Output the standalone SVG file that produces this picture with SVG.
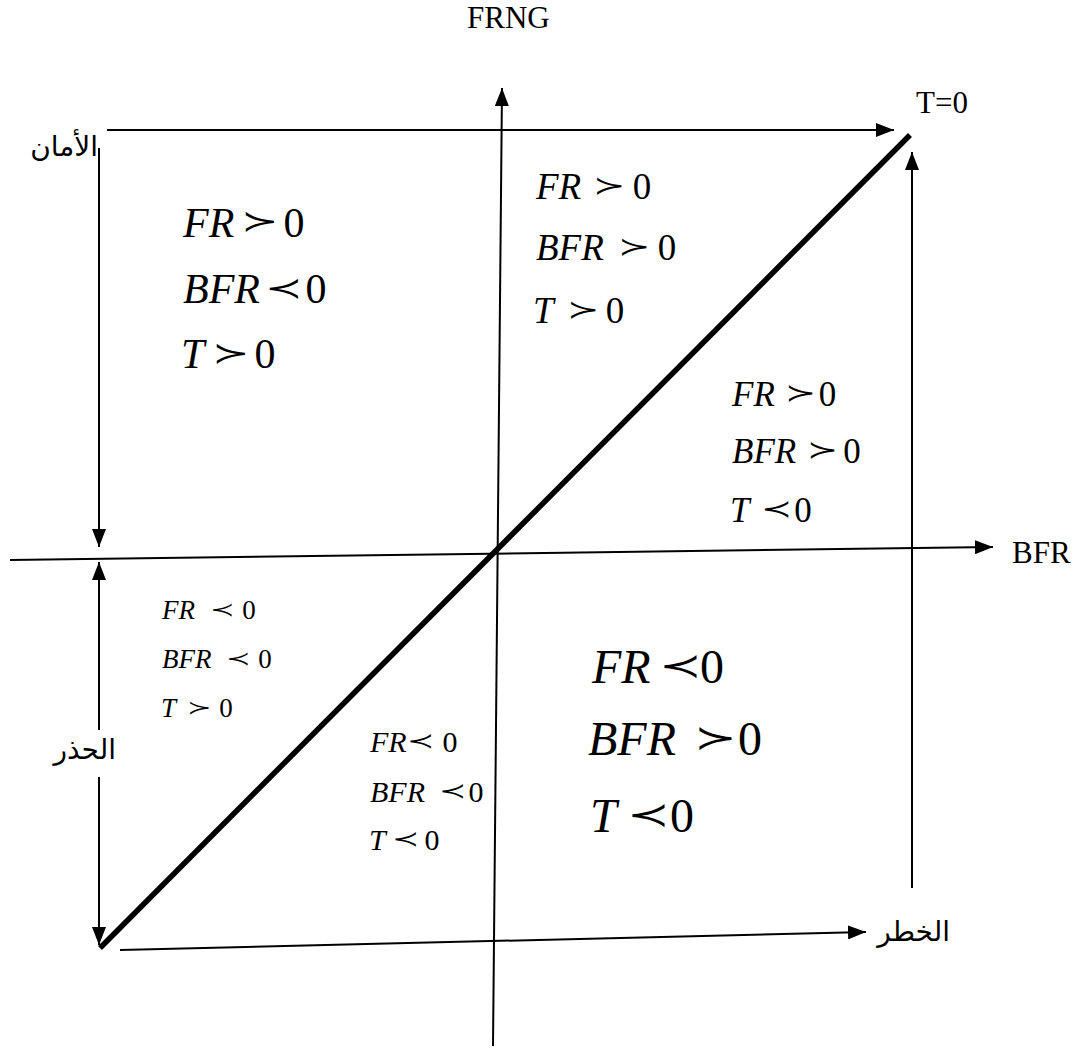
<svg xmlns="http://www.w3.org/2000/svg" width="1081" height="1050" viewBox="0 0 1081 1050">
<style>
.ax{stroke:#000;stroke-width:2;fill:none}
.dg{stroke:#000;stroke-width:5.5;fill:none}
.lbl{font-family:"Liberation Serif","Times New Roman",serif;font-size:31px;fill:#000}
.ar{font-family:"DejaVu Sans",sans-serif;font-size:28px;fill:#000}
.m{font-family:"Liberation Serif","Times New Roman",serif;font-style:italic;fill:#000}
.z{font-family:"Liberation Serif","Times New Roman",serif;fill:#000;text-anchor:middle}
.s{font-family:"DejaVu Sans",sans-serif;font-weight:200;fill:#000;text-anchor:middle;dominant-baseline:central}
</style>
<defs>
<marker id="ah" markerUnits="userSpaceOnUse" markerWidth="18" markerHeight="14" refX="18" refY="7" orient="auto">
<path d="M0,0 L18,7 L0,14 z" fill="#000"/>
</marker>
</defs>
<g id="connectors">
<line class="ax" x1="493" y1="1046" x2="502" y2="88" marker-end="url(#ah)"/>
<line class="ax" x1="10" y1="560" x2="993" y2="547" marker-end="url(#ah)"/>
<line class="dg" x1="100" y1="948" x2="910" y2="135"/>
<line class="ax" x1="107" y1="130" x2="894" y2="130" marker-end="url(#ah)"/>
<line class="ax" x1="912" y1="888" x2="912" y2="152" marker-end="url(#ah)"/>
<line class="ax" x1="99" y1="148" x2="99" y2="547" marker-end="url(#ah)"/>
<line class="ax" x1="99" y1="730" x2="99" y2="562" marker-end="url(#ah)"/>
<line class="ax" x1="99" y1="777" x2="99" y2="945" marker-end="url(#ah)"/>
<line class="ax" x1="120" y1="950" x2="866" y2="932" marker-end="url(#ah)"/>
</g>
<g id="axis-labels">
<text class="lbl" x="467" y="28">FRNG</text>
<text class="lbl" x="916" y="113">T=0</text>
<text class="lbl" x="1012" y="563">BFR</text>
</g>
<g id="zone-labels">
<text class="ar" x="98" y="156" text-anchor="end">الأمان</text>
<text class="ar" x="116" y="759" text-anchor="end">الحذر</text>
<text class="ar" x="950" y="941" text-anchor="end">الخطر</text>
</g>
<g id="region-top-left" font-size="42">
<text class="m" x="183" y="237">FR</text>
<text class="s" font-size="29" transform="translate(260,221.5) scale(1.55,1)">≻</text>
<text class="z" x="294" y="237">0</text>
<text class="m" x="183" y="303">BFR</text>
<text class="s" font-size="29" transform="translate(284,288) scale(1.55,1)">≺</text>
<text class="z" x="316" y="303">0</text>
<text class="m" x="181" y="368">T</text>
<text class="s" font-size="29" transform="translate(231.5,353.5) scale(1.55,1)">≻</text>
<text class="z" x="265" y="368">0</text>
</g>
<g id="region-top-middle" font-size="37">
<text class="m" x="536" y="199">FR</text>
<text class="s" font-size="25" transform="translate(609.5,185.5) scale(1.55,1)">≻</text>
<text class="z" x="642" y="199">0</text>
<text class="m" x="536" y="260">BFR</text>
<text class="s" font-size="25" transform="translate(634.5,246.5) scale(1.55,1)">≻</text>
<text class="z" x="667" y="260">0</text>
<text class="m" x="533" y="323">T</text>
<text class="s" font-size="25" transform="translate(583.5,309.5) scale(1.55,1)">≻</text>
<text class="z" x="615" y="323">0</text>
</g>
<g id="region-right" font-size="35">
<text class="m" x="732" y="406">FR</text>
<text class="s" font-size="24" transform="translate(800,393) scale(1.55,1)">≻</text>
<text class="z" x="827.5" y="406">0</text>
<text class="m" x="732" y="463">BFR</text>
<text class="s" font-size="24" transform="translate(822.5,450) scale(1.55,1)">≻</text>
<text class="z" x="852" y="463">0</text>
<text class="m" x="730" y="522">T</text>
<text class="s" font-size="24" transform="translate(776,509) scale(1.55,1)">≺</text>
<text class="z" x="803" y="522">0</text>
</g>
<g id="region-lower-left" font-size="27">
<text class="m" x="162" y="619">FR</text>
<text class="s" font-size="19" transform="translate(222,609) scale(1.55,1)">≺</text>
<text class="z" x="249" y="619">0</text>
<text class="m" x="162" y="668">BFR</text>
<text class="s" font-size="19" transform="translate(238,658) scale(1.55,1)">≺</text>
<text class="z" x="265" y="668">0</text>
<text class="m" x="161" y="717">T</text>
<text class="s" font-size="19" transform="translate(199,707) scale(1.55,1)">≻</text>
<text class="z" x="226" y="717">0</text>
</g>
<g id="region-lower-middle" font-size="30">
<text class="m" x="370" y="752">FR</text>
<text class="s" font-size="21" transform="translate(421,741) scale(1.55,1)">≺</text>
<text class="z" x="450" y="752">0</text>
<text class="m" x="370" y="802">BFR</text>
<text class="s" font-size="21" transform="translate(453,791) scale(1.55,1)">≺</text>
<text class="z" x="476" y="802">0</text>
<text class="m" x="369" y="850">T</text>
<text class="s" font-size="21" transform="translate(406,839) scale(1.55,1)">≺</text>
<text class="z" x="432" y="850">0</text>
</g>
<g id="region-lower-right" font-size="48">
<text class="m" x="592" y="683">FR</text>
<text class="s" font-size="33" transform="translate(680,665) scale(1.55,1)">≺</text>
<text class="z" x="712" y="683">0</text>
<text class="m" x="588" y="755">BFR</text>
<text class="s" font-size="33" transform="translate(715,737) scale(1.55,1)">≻</text>
<text class="z" x="750" y="755">0</text>
<text class="m" x="590" y="832">T</text>
<text class="s" font-size="33" transform="translate(648,814) scale(1.55,1)">≺</text>
<text class="z" x="682" y="832">0</text>
</g>
</svg>
